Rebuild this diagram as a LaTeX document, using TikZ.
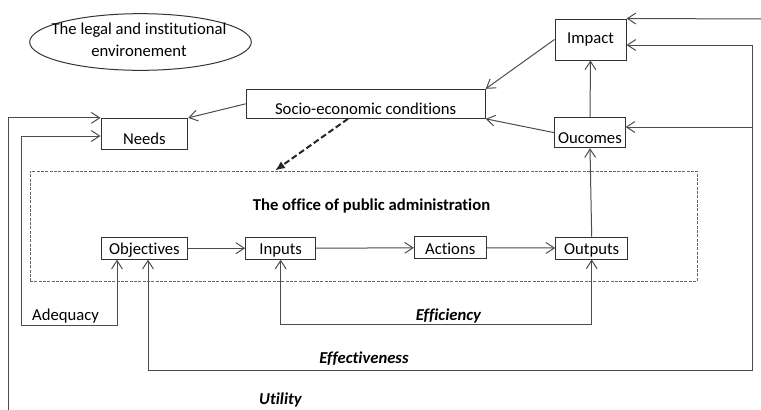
\documentclass[tikz,border=0pt]{standalone}
\usepackage{fontspec}
\setmainfont{Carlito}[Ligatures={NoCommon}]
\usetikzlibrary{arrows.meta,shapes.geometric}

\tikzset{
  box/.style={draw=black!80, line width=0.6pt, inner xsep=2pt, inner ysep=1pt},
  lowtext/.style={text height=12.5pt, text depth=0pt},
  rowtext/.style={text height=9.5pt, text depth=2pt, inner ysep=0.2pt},
  link/.style={draw=black!70, line width=0.6pt},
  looplabel/.style={font=\bfseries\itshape, anchor=base},
}

\begin{document}
\begin{tikzpicture}[x=0.6pt, y=-0.6pt, >={Straight Barb[length=5pt,width=6.5pt]}]

  \useasboundingbox (0,0) rectangle (761,409);

  % environment
  \node[draw=black!80, line width=0.6pt, ellipse, minimum width=133pt, minimum height=34pt] (env) at (140.5,42) {};
  \node[align=center, font=\fontsize{10}{13.2}\selectfont] (envtext) at (139,39.5) {The legal and institutional\\environement};

  % upper boxes
  \node[box, lowtext, minimum width=52pt, minimum height=18.4pt] (needs) at (144.4,133.7) {Needs};
  \node[box, lowtext, minimum width=143.4pt, minimum height=17.4pt] (socio) at (365.7,103.8) {Socio-economic conditions};
  \node[box, minimum width=42.6pt, minimum height=24.6pt] (impact) at (590.5,39.5) {Impact};
  \node[box, lowtext, minimum width=42pt, minimum height=18pt] (oucomes) at (590,132.7) {Oucomes};

  % the office
  \node[draw=black!60, line width=0.5pt, dash pattern=on 1.8pt off 0.8pt,
        minimum width=400.2pt, minimum height=66pt] (office) at (363.5,226) {};
  \node[font=\bfseries, anchor=base] (title) at (371.5,210) {The office of public administration};

  \node[box, rowtext, minimum width=52pt, minimum height=13.2pt] (objectives) at (144.4,248.2) {Objectives};
  \node[box, rowtext, minimum width=42pt, minimum height=13.2pt] (inputs) at (280.7,248.2) {Inputs};
  \node[box, rowtext, minimum width=43pt, minimum height=13.2pt] (actions) at (450.2,247.8) {Actions};
  \node[box, rowtext, minimum width=43.2pt, minimum height=13.2pt] (outputs) at (591.7,248) {Outputs};

  % free ends
  \coordinate (utilL) at (8,415);
  \coordinate (utilR) at (770,19);
  \coordinate (effR) at (752,127);

  % links
  \draw[link, ->] (socio.west) -- (needs.north east);
  \draw[link, ->] (impact.west) -- (socio.north east);
  \draw[link, ->] (oucomes.west) -- (socio.south east);
  \draw[link, ->] (oucomes.north) -- (impact.south);
  \draw[link, ->] (outputs.north) -- (oucomes.south);
  \draw[link, ->] (objectives.east) -- (inputs.west);
  \draw[link, ->] (inputs.east) -- (actions.west);
  \draw[link, ->] (actions.east) -- (outputs.west);

  \draw[black!85, line width=1.2pt, dash pattern=on 3.6pt off 1.8pt, -{Latex[length=6pt,width=5pt]}]
    (socio.south -| 348,0) -- (office.north -| 275,0);

  % loops
  \draw[link, <->] (needs.west |- 0,136) -| (21,325) -| (objectives.south -| 117,0);
  \draw[link, <->] (inputs.south) -- (inputs.south |- 0,324) -| (outputs.south);
  \draw[link, <->] (objectives.south -| 148,0) |- (752,370) |- (impact.east |- 0,45);
  \draw[link, ->] (effR) -- (oucomes.east |- effR);
  \draw[link, ->] (utilL) |- (needs.north west);
  \draw[link, ->] (utilR) -- (impact.north east);

  % labels
  \node[anchor=base] (adequacy) at (65.5,320) {Adequacy};
  \node[looplabel] (efficiency) at (448.5,320.5) {Efficiency};
  \node[looplabel] (effectiveness) at (364,363.3) {Effectiveness};
  \node[looplabel] (utility) at (280.5,404) {Utility};

\end{tikzpicture}
\end{document}
